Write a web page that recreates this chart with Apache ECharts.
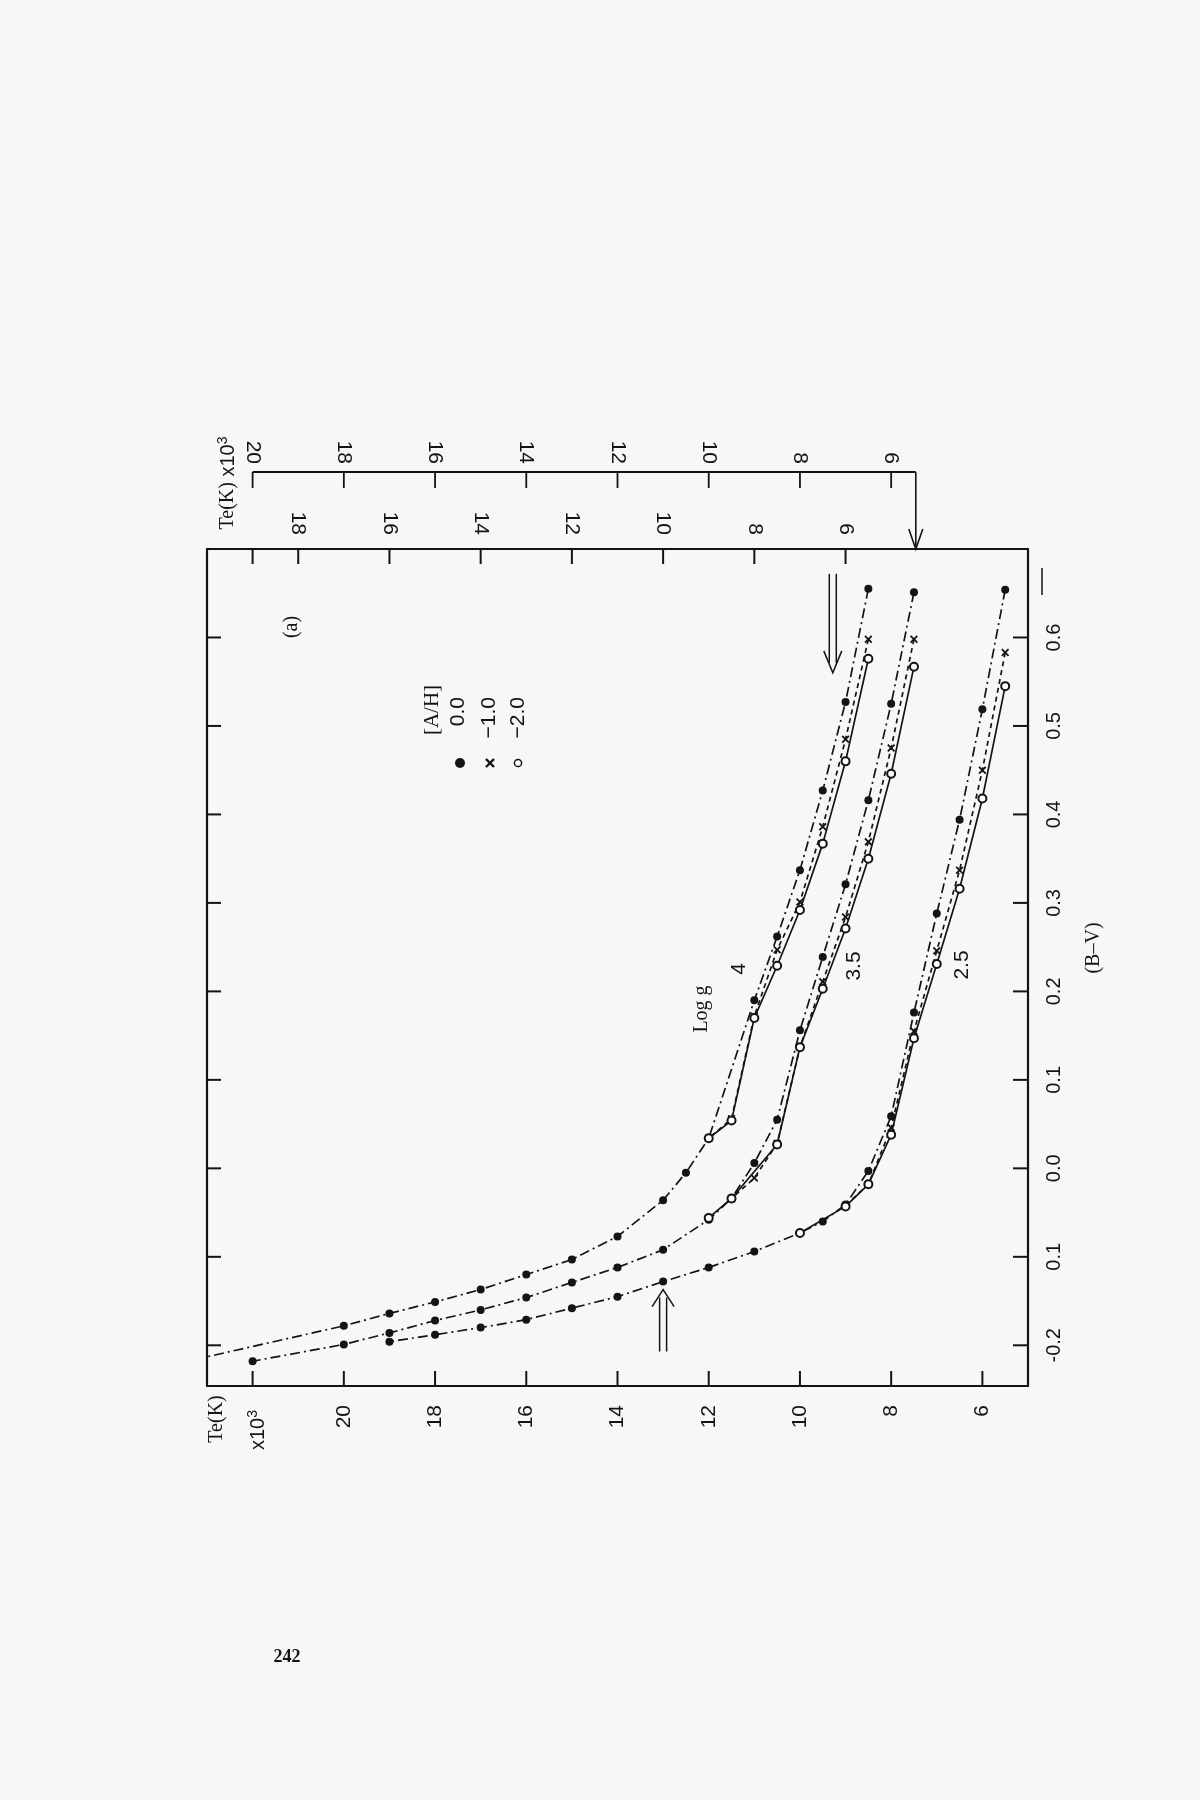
<!DOCTYPE html>
<html>
<head>
<meta charset="utf-8">
<script src="https://cdn.jsdelivr.net/npm/echarts@6/dist/echarts.min.js"></script>
<style>
  html, body { margin: 0; padding: 0; background: #f6f7f9; }
  #chart { width: 1200px; height: 1800px; }
</style>
</head>
<body>
<div id="chart"></div>
<script>
// ---------------- DATA ----------------
// Axis ticks / labels
const bvTicks = [-0.2, -0.1, 0.0, 0.1, 0.2, 0.3, 0.4, 0.5, 0.6];
const bvTickLabels = ['-0.2', '0.1', '0.0', '0.1', '0.2', '0.3', '0.4', '0.5', '0.6'];
const teBottomTicks = [22, 20, 18, 16, 14, 12, 10, 8, 6];
const teBottomLabels = [20, 18, 16, 14, 12, 10, 8, 6];
const teInnerTicks = [19, 18, 16, 14, 12, 10, 8, 6];
const teInnerLabels = [18, 16, 14, 12, 10, 8, 6];
const teOuterTicks = [20, 18, 16, 14, 12, 10, 8, 6];

// log g = 4 (read on the inner top Te scale), [Te x10^3, B-V]
const g40_m00 = [[5.5,0.655],[6.0,0.527],[6.5,0.427],[7.0,0.337],[7.5,0.262],[8.0,0.190],[9.0,0.034],[9.5,-0.005],[10,-0.036],[11,-0.077],[12,-0.103],[13,-0.120],[14,-0.137],[15,-0.151],[16,-0.164],[17,-0.178]];
const g40_m00_edge = [20, -0.213];
const g40_m10 = [[5.5,0.598],[6.0,0.485],[6.5,0.386],[7.0,0.301],[7.5,0.247],[8.0,0.172],[8.5,0.056],[9.0,0.034]];
const g40_m20 = [[5.5,0.576],[6.0,0.460],[6.5,0.367],[7.0,0.292],[7.5,0.229],[8.0,0.170],[8.5,0.054],[9.0,0.034]];

// log g = 3.5 (read on the outer top Te scale)
const g35_m00 = [[5.5,0.651],[6.0,0.525],[6.5,0.416],[7.0,0.321],[7.5,0.239],[8.0,0.156],[8.5,0.055],[9.0,0.006],[9.5,-0.034],[10,-0.058],[11,-0.092],[12,-0.112],[13,-0.129],[14,-0.146],[15,-0.160],[16,-0.172],[17,-0.186],[18,-0.199],[20,-0.218]];
const g35_m10 = [[5.5,0.598],[6.0,0.475],[6.5,0.369],[7.0,0.284],[7.5,0.211],[8.0,0.137],[8.5,0.028],[9.0,-0.011],[9.5,-0.034]];
const g35_m20 = [[5.5,0.567],[6.0,0.446],[6.5,0.350],[7.0,0.271],[7.5,0.203],[8.0,0.137],[8.5,0.027],[9.5,-0.034],[10,-0.056]];

// log g = 2.5 (read on the bottom Te scale)
const g25_m00 = [[5.5,0.654],[6.0,0.519],[6.5,0.394],[7.0,0.288],[7.5,0.176],[8.0,0.059],[8.5,-0.003],[9.0,-0.041],[9.5,-0.060],[10,-0.073],[11,-0.094],[12,-0.112],[13,-0.128],[14,-0.145],[15,-0.158],[16,-0.171],[17,-0.180],[18,-0.188],[19,-0.196]];
const g25_m10 = [[5.5,0.583],[6.0,0.450],[6.5,0.337],[7.0,0.246],[7.5,0.155],[8.0,0.046],[8.5,-0.018],[9.0,-0.042]];
const g25_m20 = [[5.5,0.545],[6.0,0.418],[6.5,0.316],[7.0,0.231],[7.5,0.147],[8.0,0.038],[8.5,-0.018],[9.0,-0.043],[10,-0.073]];

// Annotation anchors (bottom Te scale, B-V)
const arrowDown = { te: 9.28, bvFrom: 0.672, bvTo: 0.560 };
const arrowUp = { te: 13.0, bvFrom: -0.207, bvTo: -0.137 };
const outerArrowTe = 5.46; // on the outer top scale

// ---------------- STYLE ----------------
const INK = '#141414';
const SANS = '"Liberation Sans", Arial, sans-serif';
const SERIF = '"Liberation Serif", "Times New Roman", serif';
const DASHDOT = [10, 4, 2, 4];
const DASHED = [5, 4];
const CROSS = 'path://M0,1.6L1.6,0L5,3.4L8.4,0L10,1.6L6.6,5L10,8.4L8.4,10L5,6.6L1.6,10L0,8.4L3.4,5Z';

function mkSeries(name, data, xIdx, kind) {
  const base = {
    name, type: 'line', xAxisIndex: xIdx, yAxisIndex: 0, data,
    silent: true, animation: false, smooth: false, clip: true,
    lineStyle: { color: INK, width: 1.7 }, itemStyle: { color: INK }
  };
  if (kind === 'dot') {
    base.symbol = 'circle'; base.symbolSize = 8; base.lineStyle.type = DASHDOT; base.z = 3;
  } else if (kind === 'cross') {
    base.symbol = CROSS; base.symbolSize = 8; base.lineStyle.type = DASHED; base.z = 4;
  } else {
    base.symbol = 'emptyCircle'; base.symbolSize = 8;
    base.itemStyle = { color: INK, borderColor: INK, borderWidth: 1.5 };
    base.lineStyle.type = 'solid'; base.z = 5;
  }
  return base;
}

const bvFmt = v => {
  const i = bvTicks.findIndex(t => Math.abs(t - v) < 1e-6);
  return i >= 0 ? bvTickLabels[i] : '';
};

const labelBase = { color: INK, fontFamily: SANS, fontSize: 21, rotate: 90 };
const noTick = { show: false };
const lineBase = { show: true, onZero: false, lineStyle: { color: INK, width: 2.2 } };

const chart = echarts.init(document.getElementById('chart'), null, { renderer: 'canvas' });
const g40edgeData = g40_m00.concat([{ value: g40_m00_edge, symbol: 'none' }]);

chart.setOption({
  backgroundColor: '#f6f7f9',
  animation: false,
  grid: { left: 207, right: 172, top: 549, bottom: 414, containLabel: false },
  xAxis: [
    { type: 'value', position: 'bottom', min: 5, max: 23, inverse: true,
      axisLine: lineBase, splitLine: { show: false }, axisTick: noTick,
      axisLabel: Object.assign({ customValues: teBottomLabels, margin: 19 }, labelBase) },
    { type: 'value', position: 'top', min: 2, max: 20, inverse: true,
      axisLine: lineBase, splitLine: { show: false }, axisTick: noTick,
      axisLabel: Object.assign({ customValues: teInnerLabels, margin: 14 }, labelBase) },
    { type: 'value', position: 'top', offset: 77, min: 3, max: 21, inverse: true,
      axisLine: { show: false, onZero: false }, splitLine: { show: false }, axisTick: noTick,
      axisLabel: Object.assign({ customValues: teOuterTicks, margin: 8 }, labelBase) }
  ],
  yAxis: [
    { type: 'value', position: 'right', min: -0.246, max: 0.7,
      axisLine: lineBase, splitLine: { show: false }, axisTick: noTick,
      axisLabel: Object.assign({ customValues: bvTicks, margin: 16, formatter: bvFmt }, labelBase, { fontSize: 20 }) },
    { type: 'value', position: 'left', min: -0.246, max: 0.7,
      axisLine: lineBase, splitLine: { show: false }, axisTick: noTick,
      axisLabel: { show: false } }
  ],
  series: [
    mkSeries('g4 [A/H]=0.0', g40edgeData, 1, 'dot'),
    mkSeries('g4 [A/H]=-1.0', g40_m10, 1, 'cross'),
    mkSeries('g4 [A/H]=-2.0', g40_m20, 1, 'open'),
    mkSeries('g3.5 [A/H]=0.0', g35_m00, 2, 'dot'),
    mkSeries('g3.5 [A/H]=-1.0', g35_m10, 2, 'cross'),
    mkSeries('g3.5 [A/H]=-2.0', g35_m20, 2, 'open'),
    mkSeries('g2.5 [A/H]=0.0', g25_m00, 0, 'dot'),
    mkSeries('g2.5 [A/H]=-1.0', g25_m10, 0, 'cross'),
    mkSeries('g2.5 [A/H]=-2.0', g25_m20, 0, 'open')
  ]
});

// ---------------- TICKS & ANNOTATIONS ----------------
const R = Math.PI / 2;
function px(te, bv) { return chart.convertToPixel({ xAxisIndex: 0, yAxisIndex: 0 }, [te, bv]); }
function rtext(x, y, text, font, size, align, extra) {
  return { type: 'text', x, y, rotation: R, silent: true, z: 50,
    style: Object.assign({ text, fontFamily: font, fontSize: size, fill: INK,
      align: align || 'center', verticalAlign: 'middle' }, extra || {}) };
}
const ln = (x1, y1, x2, y2, w) => ({ type: 'line', silent: true, z: 60,
  shape: { x1, y1, x2, y2 }, style: { stroke: INK, lineWidth: w || 1.5 } });
const pl = (pts, w) => ({ type: 'polyline', silent: true, z: 50,
  shape: { points: pts }, style: { stroke: INK, lineWidth: w || 1.5, fill: null } });

const corner0 = px(23, 0.7), corner1 = px(5, -0.246);
const gLeft = corner0[0], gTop = corner0[1], gRight = corner1[0], gBottom = corner1[1];
const outerY = gTop - 77;
const xOf = (idx, v) => chart.convertToPixel({ xAxisIndex: idx }, v);
const yOf = v => chart.convertToPixel({ yAxisIndex: 0 }, v);
const outerStartX = xOf(2, 20);
const outerEndX = xOf(2, outerArrowTe);

const graphics = [];
// inward ticks on every side of the frame, placed through the axes' scales
teBottomTicks.forEach(v => { const x = xOf(0, v); graphics.push(ln(x, gBottom - 1, x, gBottom - 15, 2)); });
teInnerTicks.forEach(v => { const x = xOf(1, v); graphics.push(ln(x, gTop + 1, x, gTop + 15, 2)); });
teOuterTicks.forEach(v => { const x = xOf(2, v); graphics.push(ln(x, outerY, x, outerY + 16, 1.8)); });
bvTicks.forEach(v => { const y = yOf(v);
  graphics.push(ln(gRight - 1, y, gRight - 15, y, 2));
  graphics.push(ln(gLeft + 1, y, gLeft + 14, y, 2)); });

const dTop = px(arrowDown.te, arrowDown.bvFrom), dTip = px(arrowDown.te, arrowDown.bvTo);
const uBot = px(arrowUp.te, arrowUp.bvFrom), uTip = px(arrowUp.te, arrowUp.bvTo);

const rich3 = {
  n: { fontFamily: SANS, fontSize: 20, fill: INK },
  t: { fontFamily: SERIF, fontSize: 20, fill: INK },
  s: { fontFamily: SANS, fontSize: 14, fill: INK, verticalAlign: 'top', padding: [0, 0, 10, 0] }
};

graphics.push(
  // outer Te axis line + arrow down to the frame
  ln(outerStartX, outerY, outerEndX, outerY, 2.2),
  ln(outerEndX, outerY, outerEndX, gTop, 1.6),
  pl([[outerEndX - 7, gTop - 20], [outerEndX, gTop], [outerEndX + 7, gTop - 20]], 1.6),
  // double arrow pointing down (log g 4 group)
  ln(dTop[0] - 3.5, dTop[1], dTop[0] - 3.5, dTip[1] - 10),
  ln(dTop[0] + 3.5, dTop[1], dTop[0] + 3.5, dTip[1] - 10),
  pl([[dTip[0] - 9, dTip[1] - 22], [dTip[0], dTip[1]], [dTip[0] + 9, dTip[1] - 22]]),
  // double arrow pointing up (hot end)
  ln(uBot[0] - 3.5, uBot[1], uBot[0] - 3.5, uTip[1] + 8),
  ln(uBot[0] + 3.5, uBot[1], uBot[0] + 3.5, uTip[1] + 8),
  pl([[uTip[0] - 11, uTip[1] + 17], [uTip[0], uTip[1]], [uTip[0] + 11, uTip[1] + 17]]),
  // stray dash beyond the right frame
  ln(1042, 568, 1042, 595, 1.5),
  // axis titles
  rtext(217, 1419, 'Te(K)', SERIF, 20),
  { type: 'text', x: 258, y: 1430, rotation: R, silent: true, z: 50,
    style: { text: '{n|x10}{s|3}', rich: rich3, align: 'center', verticalAlign: 'middle' } },
  { type: 'text', x: 228, y: 483, rotation: R, silent: true, z: 50,
    style: { text: '{t|Te(K)}{n| x10}{s|3}', rich: rich3, align: 'center', verticalAlign: 'middle' } },
  rtext(1094, 948, '(B\u2013V)', SERIF, 20),
  // panel label
  rtext(292, 627, '(a)', SERIF, 20),
  // legend
  rtext(432, 710, '[A/H]', SERIF, 21),
  rtext(458, 697, '0.0', SANS, 21, 'right'),
  rtext(489, 697, '\u22121.0', SANS, 21, 'right'),
  rtext(518, 697, '\u22122.0', SANS, 21, 'right'),
  { type: 'circle', silent: true, z: 50, shape: { cx: 460, cy: 763, r: 5 }, style: { fill: INK } },
  ln(486, 759, 494, 767, 2.4), ln(494, 759, 486, 767, 2.4),
  { type: 'circle', silent: true, z: 50, shape: { cx: 518, cy: 763, r: 3.6 }, style: { fill: '#fff', stroke: INK, lineWidth: 1.5 } },
  // log g labels
  rtext(702, 1009, 'Log g', SERIF, 20),
  rtext(739, 969, '4', SANS, 21),
  rtext(854, 966, '3.5', SANS, 21),
  rtext(962, 965, '2.5', SANS, 21),
  // page number
  { type: 'text', x: 287, y: 1657, silent: true, z: 50,
    style: { text: '242', fontFamily: SERIF, fontSize: 18, fontWeight: 'bold', fill: INK, align: 'center', verticalAlign: 'middle' } }
);

chart.setOption({ graphic: graphics });
</script>
</body>
</html>
